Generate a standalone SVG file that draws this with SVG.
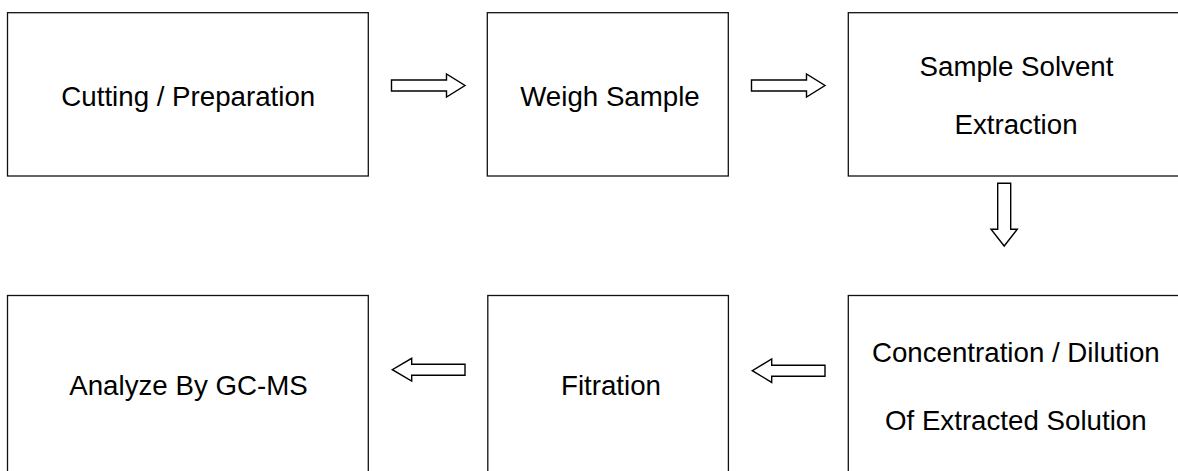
<svg xmlns="http://www.w3.org/2000/svg" width="1178" height="471" viewBox="0 0 1178 471">
<style>
.box{fill:#fff;stroke:#111;stroke-width:1.3}
.lbl{font-family:"Liberation Sans",Arial,sans-serif;font-size:27.7px;fill:#000;text-anchor:middle}
.arr{fill:#fff;stroke:#000;stroke-width:1.4;stroke-linejoin:miter}
</style>
<rect width="1178" height="471" fill="#fff"/>
<g id="n1"><rect class="box" x="7.5" y="12.7" width="360.8" height="163.3"/><text class="lbl" x="188.3" y="105.5">Cutting / Preparation</text></g>
<g id="n2"><rect class="box" x="487.3" y="12.7" width="241" height="163.3"/><text class="lbl" x="610" y="106">Weigh Sample</text></g>
<g id="n3"><rect class="box" x="848.3" y="12.7" width="345" height="163.3"/><text class="lbl" x="1016.5" y="75.5">Sample Solvent</text><text class="lbl" x="1016" y="134">Extraction</text></g>
<g id="n4"><rect class="box" x="848.3" y="295.5" width="345" height="190"/><text class="lbl" x="1015.8" y="362">Concentration / Dilution</text><text class="lbl" x="1015.8" y="430">Of Extracted Solution</text></g>
<g id="n5"><rect class="box" x="487.8" y="295.5" width="240.6" height="190"/><text class="lbl" x="611" y="395">Fitration</text></g>
<g id="n6"><rect class="box" x="7.5" y="295.5" width="360.8" height="190"/><text class="lbl" x="188.5" y="395">Analyze By GC-MS</text></g>
<g id="connectors">
<path class="arr" d="M391.5,80 H446.5 V74 L465,85.5 L446.5,97 V91 H391.5 Z"/>
<path class="arr" d="M751.5,80 H806.5 V74 L825,85.5 L806.5,97 V91 H751.5 Z"/>
<path class="arr" d="M997.7,183.3 V229.3 H991 L1004.2,246 L1017.3,229.3 H1010.7 V183.3 Z"/>
<path class="arr" d="M825,365.2 H771.7 V359 L752.3,370.7 L771.7,382.4 V376.2 H825 Z"/>
<path class="arr" d="M465,364.2 H411.7 V358.3 L392.3,369.7 L411.7,381.1 V375.2 H465 Z"/>
</g>
</svg>
